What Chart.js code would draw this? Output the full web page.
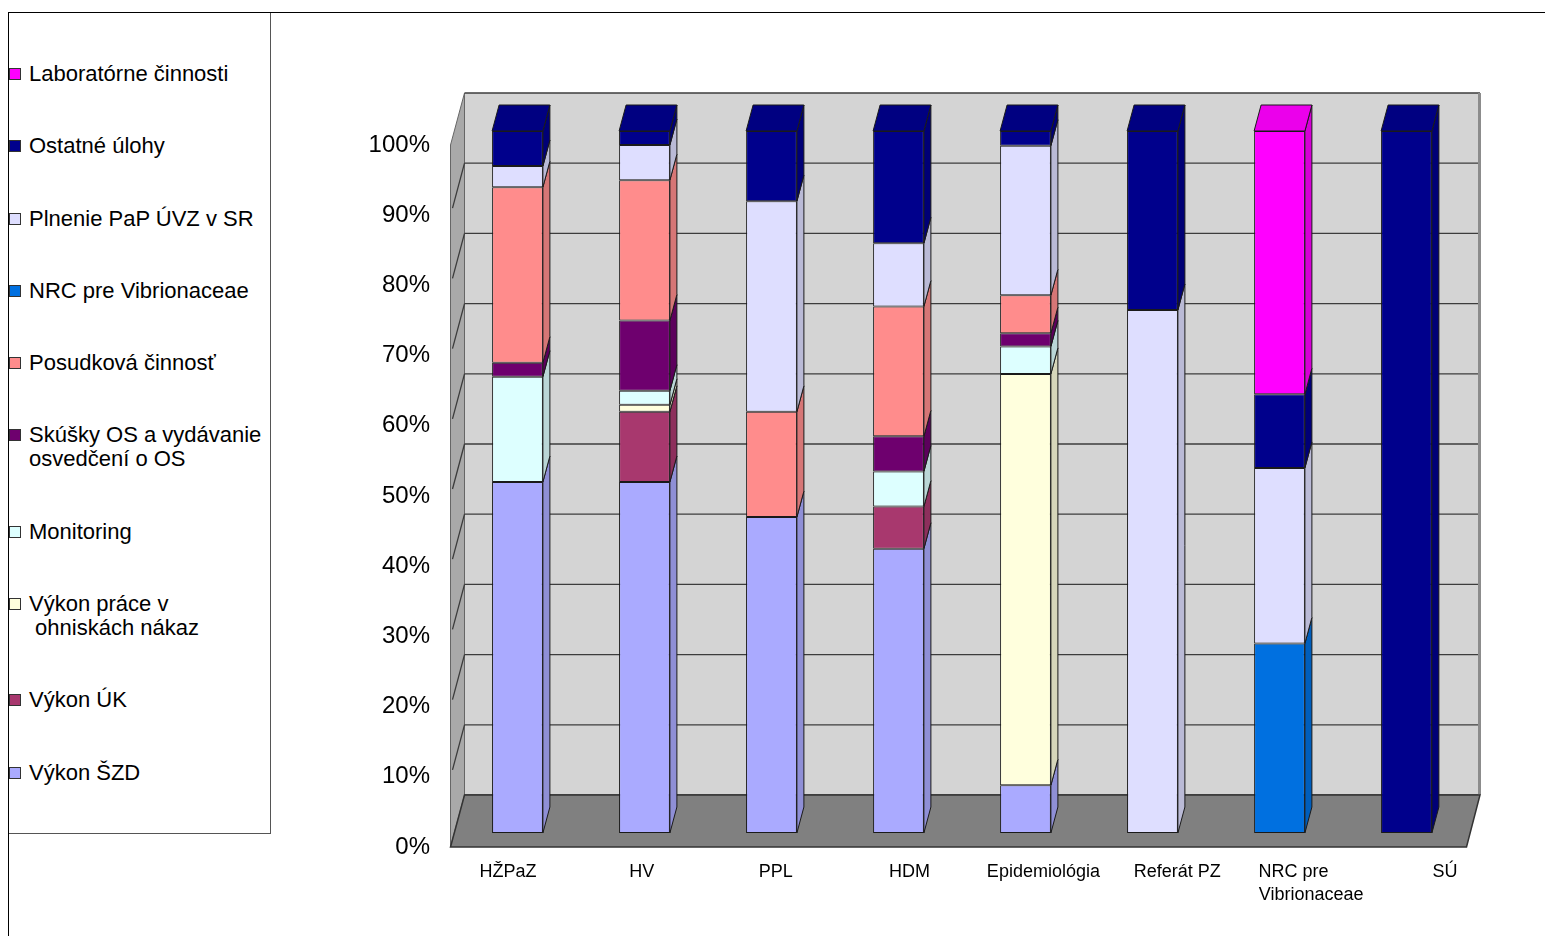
<!DOCTYPE html>
<html>
<head>
<meta charset="utf-8">
<script src="https://cdn.jsdelivr.net/npm/chart.js@4.4.1/dist/chart.umd.min.js"></script>
<style>
  html, body { margin: 0; padding: 0; background: #fff; }
  body { width: 1545px; height: 936px; position: relative; overflow: hidden; font-family: "Liberation Sans", Arial, sans-serif; }
  #ramHore { position: absolute; left: 8px; top: 12px; width: 1537px; height: 1px; background: #000; }
  #ramVlavo { position: absolute; left: 8px; top: 12px; width: 1px; height: 924px; background: #000; }
  #legenda { position: absolute; left: 9px; top: 13px; width: 261px; height: 820px; border-right: 1px solid #555; border-bottom: 1px solid #555; }
  #legenda ul { list-style: none; margin: 0; padding: 0; position: absolute; top: 49px; left: 0; }
  #legenda li { position: relative; padding-left: 20px; font-size: 22px; line-height: 24px; margin-bottom: 48.3px; color: #000; white-space: pre; }
  #legenda li .box { position: absolute; left: 0; top: 6px; width: 10px; height: 10px; border: 1px solid #333; }
  #graf { position: absolute; left: 0; top: 0; }
</style>
</head>
<body>
<div id="ramHore"></div>
<div id="ramVlavo"></div>
<div id="legenda"><ul></ul></div>
<canvas id="graf" width="1545" height="936"></canvas>
<script>
// kategorie a popisy osi
const kategorie = ['HŽPaZ', 'HV', 'PPL', 'HDM', 'Epidemiológia', 'Referát PZ', 'NRC pre Vibrionaceae', 'SÚ'];
const popisyOsi = ['HŽPaZ', 'HV', 'PPL', 'HDM', 'Epidemiológia', 'Referát PZ', ['NRC pre       ', 'Vibrionaceae'], 'SÚ'];
const percenta = [0, 10, 20, 30, 40, 50, 60, 70, 80, 90, 100];

// podiely cinnosti v % (null = bez podielu)
const vykonSZD    = [50, 50, 45, 40.5, 6.8, null, null, null];
const vykonUK     = [null, 10, null, 6, null, null, null, null];
const ohniska     = [null, 1, null, null, 58.6, null, null, null];
const monitoring  = [15, 2, null, 5, 3.9, null, null, null];
const skusky      = [2, 10, null, 5, 1.9, null, null, null];
const posudkova   = [25, 20, 15, 18.5, 5.4, null, null, null];
const nrcVibrio   = [null, null, null, null, null, null, 27, null];
const plnenie     = [3, 5, 30, 9, 21.3, 74.5, 25, null];
const ostatne     = [5, 2, 10, 16, 2.1, 25.5, 10.5, 100];
const laborator   = [null, null, null, null, null, null, 37.5, null];

const nazvy = ['Výkon ŠZD', 'Výkon ÚK', 'Výkon práce v\n ohniskách nákaz', 'Monitoring',
  'Skúšky OS a vydávanie\nosvedčení o OS', 'Posudková činnosť', 'NRC pre Vibrionaceae',
  'Plnenie PaP ÚVZ v SR', 'Ostatné úlohy', 'Laboratórne činnosti'];
const serie = [vykonSZD, vykonUK, ohniska, monitoring, skusky, posudkova, nrcVibrio, plnenie, ostatne, laborator];
const farby = ['#aaaaff', '#a8386e', '#ffffdd', '#ddffff', '#6e006e', '#ff8c8c', '#0070e0', '#dedeff', '#00008c', '#ff00ff'];

// rozsah osi s popismi (popisy su v inom rozostupe nez stlpce)
const popisyMin = -0.4034, popisyMax = 7.187;

// stmavenie farby pre bocne a horne steny
function tien(hex, k) {
  const n = parseInt(hex.slice(1), 16);
  const r = Math.round(((n >> 16) & 255) * k), g = Math.round(((n >> 8) & 255) * k), b = Math.round((n & 255) * k);
  return 'rgb(' + r + ',' + g + ',' + b + ')';
}

const hlbka = { dx: 7, dy: -26 };

// zadna stena, podlaha, bocna stena
const priestor = {
  id: 'priestor',
  beforeDatasetsDraw(chart) {
    const { ctx, chartArea: a, scales: { y } } = chart;
    const zL = a.left + 10.5, zR = a.right + 10, zad = -38;
    const pL = a.left - 3.5, pR = a.right - 3.5, pred = 14;
    const y0 = y.getPixelForValue(0), y100 = y.getPixelForValue(100);
    ctx.save();
    // zadna stena
    ctx.fillStyle = '#d4d4d4';
    ctx.fillRect(zL, y100 + zad, zR - zL, y0 - y100);
    // bocna stena
    ctx.beginPath();
    ctx.moveTo(pL, y100 + pred);
    ctx.lineTo(zL, y100 + zad);
    ctx.lineTo(zL, y0 + zad);
    ctx.lineTo(pL, y0 + pred);
    ctx.closePath();
    ctx.fillStyle = '#a9a9a9';
    ctx.fill();
    ctx.strokeStyle = '#666';
    ctx.lineWidth = 1;
    ctx.stroke();
    // mriezka
    ctx.strokeStyle = '#3c3c3c';
    ctx.lineWidth = 1.3;
    percenta.forEach(v => {
      const py = y.getPixelForValue(v);
      ctx.beginPath();
      ctx.moveTo(zL, py + zad);
      ctx.lineTo(zR, py + zad);
      ctx.stroke();
      if (v > 0 && v < 100) {
        ctx.beginPath();
        ctx.moveTo(zL, py + zad);
        ctx.lineTo(pL + 2, py + pred - 7);
        ctx.stroke();
      }
    });
    // prava hrana zadnej steny
    ctx.fillStyle = '#8c8c8c';
    ctx.fillRect(zR - 2, y100 + zad, 3, y0 - y100);
    // podlaha
    ctx.beginPath();
    ctx.moveTo(pL, y0 + pred);
    ctx.lineTo(pR, y0 + pred);
    ctx.lineTo(zR, y0 + zad);
    ctx.lineTo(zL, y0 + zad);
    ctx.closePath();
    ctx.fillStyle = '#808080';
    ctx.fill();
    ctx.strokeStyle = '#333';
    ctx.lineWidth = 1.5;
    ctx.stroke();
    ctx.restore();
  },
  afterDatasetsDraw(chart) {
    const ctx = chart.ctx;
    ctx.save();
    ctx.strokeStyle = '#1a1a1a';
    ctx.lineWidth = 1;
    kategorie.forEach((k, j) => {
      let vrch = null;
      chart.data.datasets.forEach((ds, i) => {
        if (ds.data[j] == null) return;
        const el = chart.getDatasetMeta(i).data[j];
        const p = el.getProps(['x', 'y', 'base', 'width'], true);
        const l = p.x - p.width / 2, r = p.x + p.width / 2;
        const t = Math.min(p.y, p.base), b = Math.max(p.y, p.base);
        ctx.beginPath();
        ctx.moveTo(r, t);
        ctx.lineTo(r + hlbka.dx, t + hlbka.dy);
        ctx.lineTo(r + hlbka.dx, b + hlbka.dy);
        ctx.lineTo(r, b);
        ctx.closePath();
        ctx.fillStyle = tien(ds.backgroundColor, 0.84);
        ctx.fill();
        ctx.stroke();
        vrch = { l, r, t, farba: ds.backgroundColor };
      });
      if (vrch) {
        ctx.beginPath();
        ctx.moveTo(vrch.l, vrch.t);
        ctx.lineTo(vrch.l + hlbka.dx, vrch.t + hlbka.dy);
        ctx.lineTo(vrch.r + hlbka.dx, vrch.t + hlbka.dy);
        ctx.lineTo(vrch.r, vrch.t);
        ctx.closePath();
        ctx.fillStyle = tien(vrch.farba, 0.92);
        ctx.fill();
        ctx.stroke();
      }
    });
    ctx.restore();
  }
};

// legenda v HTML
const htmlLegenda = {
  id: 'htmlLegenda',
  afterUpdate(chart) {
    const ul = document.querySelector('#legenda ul');
    ul.innerHTML = '';
    chart.data.datasets.slice().reverse().forEach(ds => {
      const li = document.createElement('li');
      const box = document.createElement('span');
      box.className = 'box';
      box.style.background = ds.backgroundColor;
      li.appendChild(box);
      li.appendChild(document.createTextNode(ds.label));
      ul.appendChild(li);
    });
  }
};

const data = {
  labels: kategorie,
  datasets: serie.map((s, i) => ({
    label: nazvy[i],
    data: s,
    backgroundColor: farby[i],
    borderColor: '#1a1a1a',
    borderWidth: 1,
    borderSkipped: false,
    categoryPercentage: 1,
    barPercentage: 0.4
  }))
};

new Chart(document.getElementById('graf'), {
  type: 'bar',
  data: data,
  plugins: [priestor, htmlLegenda],
  options: {
    responsive: false,
    animation: false,
    layout: { padding: { left: 0, top: 131, right: 75, bottom: 23 } },
    plugins: { legend: { display: false }, tooltip: { enabled: false } },
    scales: {
      x: { stacked: true, display: false },
      popisy: {
        type: 'linear',
        position: 'bottom',
        offset: false,
        bounds: 'data',
        min: popisyMin,
        max: popisyMax,
        afterBuildTicks: s => {
          s.ticks = popisyOsi.map((p, i) => ({ value: i }));
          s.min = popisyMin;
          s.max = popisyMax;
        },
        afterFit: s => { s.height = 80; },
        grid: { display: false, drawTicks: false, offset: false },
        border: { display: false },
        ticks: {
          autoSkip: false, maxRotation: 0, minRotation: 0, padding: 27, color: '#000',
          font: { family: '"Liberation Sans", Arial, sans-serif', size: 18, lineHeight: 1.3 },
          callback: v => popisyOsi[v]
        }
      },
      y: {
        stacked: true,
        min: 0,
        max: 100,
        afterFit: s => { s.width = 454; },
        grid: { display: false, drawTicks: false },
        border: { display: false },
        ticks: {
          stepSize: 10, padding: 24, labelOffset: 14, color: '#000',
          font: { family: '"Liberation Sans", Arial, sans-serif', size: 24 },
          callback: v => v + '%'
        }
      }
    }
  }
});
</script>
</body>
</html>
